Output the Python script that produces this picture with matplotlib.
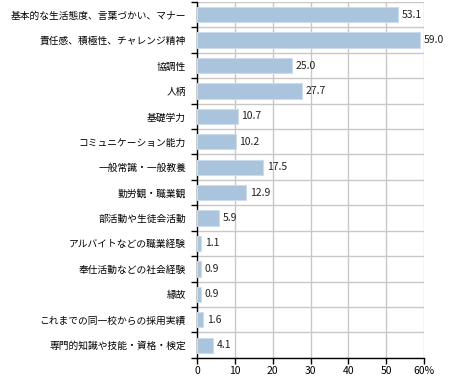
import matplotlib
matplotlib.use("Agg")
import matplotlib.pyplot as plt
import numpy as np

plt.rcParams['font.family'] = ['Noto Sans CJK JP', 'DejaVu Sans']

categories = [
    "基本的な生活態度、言葉づかい、マナー",
    "責任感、積極性、チャレンジ精神",
    "協調性",
    "人柄",
    "基礎学力",
    "コミュニケーション能力",
    "一般常識・一般教養",
    "勤労観・職業観",
    "部活動や生徒会活動",
    "アルバイトなどの職業経験",
    "奉仕活動などの社会経験",
    "縁故",
    "これまでの同一校からの採用実績",
    "専門的知識や技能・資格・検定",
]
values = [53.1, 59.0, 25.0, 27.7, 10.7, 10.2, 17.5, 12.9, 5.9, 1.1, 0.9, 0.9, 1.6, 4.1]
xticks = [0, 10, 20, 30, 40, 50, 60]
xticklabels = ["0", "10", "20", "30", "40", "50", "60%"]

fig = plt.figure(figsize=(4.5, 3.89), dpi=100)
ax = fig.add_axes([0.438, 0.080, 0.504, 0.915])

y = np.arange(len(categories))
ax.barh(y, values, height=0.6, color='#a9c4dc', edgecolor='#cddcec', linewidth=0.8, zorder=3)
for yi, v in zip(y, values):
    ax.text(v + 1.0, yi, f"{v:.1f}", va='center', ha='left', fontsize=7.5, color='#222222', zorder=4)

ax.set_xlim(0, 60)
ax.set_ylim(len(categories) - 0.5, -0.5)
ax.set_xticks(xticks)
ax.set_xticklabels(xticklabels, fontsize=7.5)
ax.set_yticks(y)
ax.set_yticklabels(categories, fontsize=7)
ax.set_yticks(np.arange(len(categories) + 1) - 0.5, minor=True)

ax.tick_params(axis='y', which='major', length=0, pad=8)
ax.tick_params(axis='y', which='minor', length=4, direction='out', color='black', width=1)
ax.tick_params(axis='x', which='major', length=4, direction='out', color='black', width=1, pad=2)

ax.grid(True, axis='x', which='major', color='#c8c8c8', linewidth=1, zorder=0)
ax.grid(True, axis='y', which='minor', color='#c8c8c8', linewidth=1, zorder=0)
ax.set_axisbelow(True)

ax.spines['top'].set_visible(False)
ax.spines['right'].set_visible(False)
ax.spines['left'].set_color('black')
ax.spines['bottom'].set_color('black')
ax.spines['left'].set_linewidth(1)
ax.spines['bottom'].set_linewidth(1)

fig.savefig('out.png', dpi=100)
